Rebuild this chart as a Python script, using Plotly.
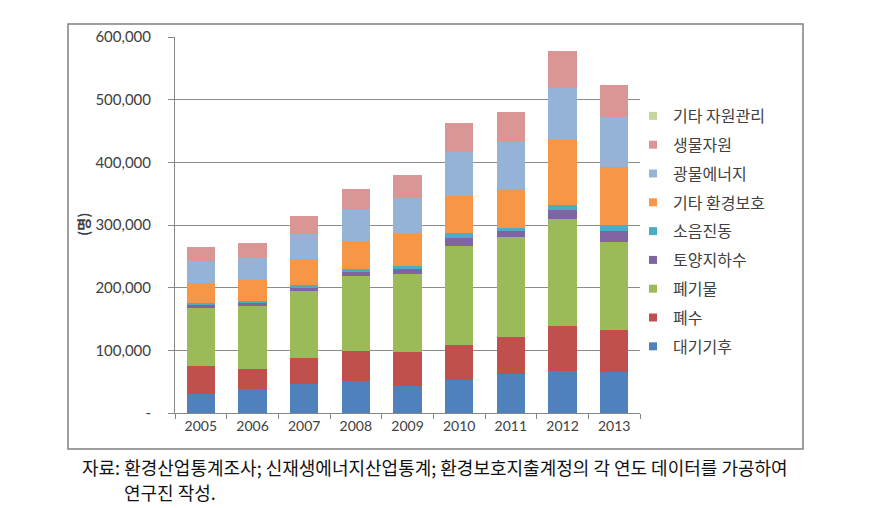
import plotly.graph_objects as go

years = ["2005", "2006", "2007", "2008", "2009", "2010", "2011", "2012", "2013"]

air = [31000, 38000, 46000, 51000, 43000, 52000, 63000, 67000, 65000]          # 대기기후
water = [44000, 32000, 42000, 48000, 54000, 56000, 58000, 72000, 67000]        # 폐수
waste = [93000, 100000, 107000, 120000, 125000, 158000, 160000, 171000, 141000]  # 폐기물
soil = [5000, 6000, 5000, 6000, 8000, 14000, 9000, 14000, 17000]              # 토양지하수
noise = [2000, 3000, 4000, 4000, 4000, 7000, 6000, 8000, 10000]               # 소음진동
other_env = [32000, 34000, 41000, 45000, 53000, 60000, 62000, 104000, 92000]  # 기타 환경보호
mineral = [35000, 34000, 41000, 51000, 56000, 69000, 74000, 82000, 80000]     # 광물에너지
bio = [23000, 25000, 29000, 33000, 36000, 46000, 49000, 60000, 51000]         # 생물자원
other_res = [0, 0, 0, 0, 0, 0, 0, 0, 0]                                       # 기타 자원관리 (not visible)

series_names = ["대기기후", "폐수", "폐기물", "토양지하수", "소음진동",
                "기타 환경보호", "광물에너지", "생물자원", "기타 자원관리"]
series_values = [air, water, waste, soil, noise, other_env, mineral, bio, other_res]
colors = ["#4F81BD", "#C0504D", "#9BBB59", "#8064A2", "#4BACC6",
          "#F79646", "#95B3D7", "#D99694", "#C3D69B"]

ytick_vals = [0, 100000, 200000, 300000, 400000, 500000, 600000]
ytick_text = ["-", "100,000", "200,000", "300,000", "400,000", "500,000", "600,000"]

FONT = "Lato, Noto Sans CJK KR, sans-serif"
KFONT = "Noto Sans CJK KR, sans-serif"

fig = go.Figure()
for name, vals, col in zip(series_names, series_values, colors):
    fig.add_trace(go.Bar(x=years, y=vals, name=name, marker_color=col,
                         marker_line_width=0, showlegend=False))
# legend entries with small square symbols (top of legend = last series)
for name, col in reversed(list(zip(series_names, colors))):
    fig.add_trace(go.Scatter(x=[None], y=[None], mode="markers", name=name,
                             legendgroup=name,
                             marker=dict(symbol="square", size=8, color=col)))

L, R, T, B = 175, 640, 37, 413
W, H = 875, 508

def px(x):
    return (x - L) / (R - L)

def py(y):
    return (B - y) / (B - T)

fig.update_layout(
    width=W, height=H,
    margin=dict(l=L, r=W - R, t=T, b=H - B, pad=0),
    barmode="stack", bargap=0.45,
    plot_bgcolor="white", paper_bgcolor="white",
    font=dict(family=FONT, size=14, color="#404040"),
    legend=dict(
        x=px(633), y=py(99), xanchor="left", yanchor="top",
        traceorder="grouped", tracegroupgap=5,
        font=dict(family=KFONT, size=16, color="#404040"),
        itemwidth=30, bgcolor="rgba(0,0,0,0)",
    ),
    xaxis=dict(
        type="category", showgrid=False, showline=True, linecolor="#868686",
        linewidth=1, ticks="outside", tickson="boundaries", ticklen=5,
        tickcolor="#868686", tickfont=dict(family=FONT, size=14, color="#404040"),
    ),
    yaxis=dict(
        range=[0, 600000], tickvals=ytick_vals, ticktext=ytick_text,
        showgrid=True, gridcolor="#8C8C8C", gridwidth=1,
        showline=True, linecolor="#868686", linewidth=1,
        ticks="outside", ticklen=6, tickcolor="#868686",
        ticklabelstandoff=14,
        tickfont=dict(family=FONT, size=15, color="#404040"),
        zeroline=False,
    ),
    shapes=[dict(type="rect", xref="paper", yref="paper",
                 x0=px(68), x1=px(803), y0=py(449), y1=py(24),
                 line=dict(color="#808080", width=1.5), fillcolor="rgba(0,0,0,0)",
                 layer="below")],
    annotations=[
        dict(text="<b>(명)</b>", xref="paper", yref="paper", x=px(83), y=py(225),
             xanchor="center", yanchor="middle",
             textangle=-90, showarrow=False, font=dict(family=KFONT, size=14, color="#404040")),
        dict(text="자료: 환경산업통계조사; 신재생에너지산업통계; 환경보호지출계정의 각 연도 데이터를 가공하여",
             xref="paper", yref="paper", x=px(80), y=py(467), xanchor="left", yanchor="middle",
             showarrow=False, font=dict(family=KFONT, size=18, color="#111111")),
        dict(text="연구진 작성.",
             xref="paper", yref="paper", x=px(122), y=py(492), xanchor="left", yanchor="middle",
             showarrow=False, font=dict(family=KFONT, size=18, color="#111111")),
    ],
)

fig.write_html("out.html", config={"displayModeBar": False},
               post_script="document.body.style.margin='0';")
